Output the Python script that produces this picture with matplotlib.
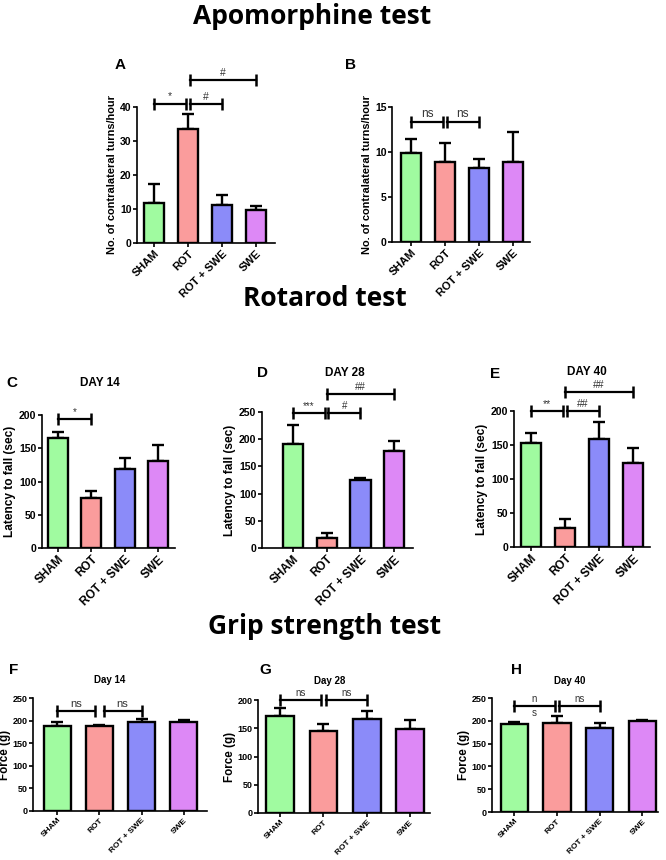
import matplotlib
matplotlib.use("Agg")
import matplotlib.pyplot as plt

plt.rcParams["font.family"] = ["Liberation Sans", "DejaVu Sans"]

W, H = 666, 860

grupos = ["SHAM", "ROT", "ROT + SWE", "SWE"]
colores = ["#a0fba0", "#fa9c9c", "#8b8bf9", "#dd88f6"]

# medias y SEM
a_media = [11.7, 33.5, 11.2, 9.8]
a_sem = [5.8, 4.3, 3.0, 1.2]
b_media = [9.9, 8.9, 8.2, 8.9]
b_sem = [1.6, 2.1, 1.0, 3.3]
c_media = [166, 75, 119, 131]
c_sem = [9, 10, 16, 24]
d_media = [192, 18, 125, 179]
d_sem = [35, 9, 4, 18]
e_media = [153, 28, 159, 123]
e_sem = [15, 13, 25, 23]
f_media = [188, 189, 197, 197]
f_sem = [10, 2, 7, 4]
g_media = [171, 146, 167, 149]
g_sem = [14, 12, 13, 15]
h_media = [193, 195, 184, 200]
h_sem = [5, 15, 12, 2]

# corchetes: (desde, hasta, altura, texto)
a_sig = [(0, 0.95, 41, "*"), (1.05, 2, 41, "#"), (1.05, 3, 48, "#")]
b_sig = [(0, 0.95, 13.3, "ns"), (1.05, 2, 13.3, "ns")]
c_sig = [(0, 1, 194, "*")]
d_sig = [(0, 0.95, 248, "***"), (1.05, 2, 248, "#"), (1.0, 3, 283, "##")]
e_sig = [(0, 0.95, 200, "**"), (1.05, 2, 200, "##"), (1.0, 3, 228, "##")]
f_sig = [(0, 0.9, 221, "ns"), (1.1, 2, 221, "ns")]
g_sig = [(0, 0.95, 200, "ns"), (1.05, 2, 200, "ns")]
h_sig = [(0, 0.95, 232, "n"), (1.05, 2, 232, "ns")]


def panel(fig, caja, xlim, media, sem, yticks, ylabel, sig, ylfs, xtfs, ytfs, sfs,
          ancho=0.6, lw=1.7, lpad=2):
    x0, x1, yb, yt = caja
    ax = fig.add_axes([x0 / W, 1 - yb / H, (x1 - x0) / W, (yb - yt) / H])
    x = list(range(len(grupos)))
    ax.bar(x, media, width=ancho, color=colores, edgecolor="black", linewidth=lw, zorder=3)
    ax.errorbar(x, media, yerr=[[0] * 4, sem], fmt="none", ecolor="black",
                elinewidth=lw, capsize=4, capthick=lw, zorder=2)
    ax.set_xlim(*xlim)
    ax.set_ylim(0, yticks[-1])
    ax.set_yticks(yticks)
    ax.set_xticks(x)
    ax.set_xticklabels(grupos, rotation=45, ha="right", rotation_mode="anchor",
                       fontsize=xtfs, fontweight="bold")
    for t in ax.get_yticklabels():
        t.set_fontsize(ytfs)
        t.set_fontweight("bold")
    ax.spines["top"].set_visible(False)
    ax.spines["right"].set_visible(False)
    ax.spines["left"].set_linewidth(1.2)
    ax.spines["bottom"].set_linewidth(1.2)
    ax.tick_params(width=1.2, length=3, pad=1)
    ax.set_ylabel(ylabel, fontsize=ylfs, fontweight="bold", labelpad=lpad)
    for i, j, y, txt in sig:
        ax.plot([i, j], [y, y], color="black", lw=1.6, marker="|", ms=8, mew=1.8,
                clip_on=False, zorder=4)
        ax.text((i + j) / 2, y + yticks[-1] * 0.015, txt, ha="center", va="bottom",
                fontsize=sfs, color="#333333")
    return ax


fig = plt.figure(figsize=(W / 100, H / 100), dpi=100)

tit = dict(ha="center", va="center", fontsize=19, fontweight="bold", family="Open Sans")
fig.text(312 / W, 1 - 16 / H, "Apomorphine test", **tit)
fig.text(325 / W, 1 - 298 / H, "Rotarod test", **tit)
fig.text(325 / W, 1 - 627 / H, "Grip strength test", **tit)

etq = dict(ha="center", va="center", fontsize=11, fontweight="bold")
sub = dict(ha="center", va="center", fontsize=8.5, fontweight="bold")
sub2 = dict(ha="center", va="center", fontsize=7, fontweight="bold")

ylab_a = "No. of contralateral turns/hour"
panel(fig, (137, 275, 243, 107), (-0.5, 3.55), a_media, a_sem, [0, 10, 20, 30, 40],
      ylab_a, a_sig, 7.9, 8, 7.5, 7.5)
panel(fig, (392, 530, 242, 107), (-0.56, 3.5), b_media, b_sem, [0, 5, 10, 15],
      ylab_a, b_sig, 7.9, 8, 7.5, 8.5)
fig.text(120 / W, 1 - 65 / H, "A", **etq)
fig.text(350 / W, 1 - 65 / H, "B", **etq)

ylab_r = "Latency to fall (sec)"
panel(fig, (42, 175, 548, 415), (-0.48, 3.51), c_media, c_sem, [0, 50, 100, 150, 200],
      ylab_r, c_sig, 8.6, 8.5, 7.6, 7)
panel(fig, (262, 413, 548, 412), (-0.92, 3.56), d_media, d_sem, [0, 50, 100, 150, 200, 250],
      ylab_r, d_sig, 8.6, 8.5, 7.6, 7)
panel(fig, (514, 650, 547, 411), (-0.5, 3.5), e_media, e_sem, [0, 50, 100, 150, 200],
      ylab_r, e_sig, 8.6, 8.5, 7.6, 7.5)
fig.text(12 / W, 1 - 383 / H, "C", **etq)
fig.text(100 / W, 1 - 383 / H, "DAY 14", **sub)
fig.text(262 / W, 1 - 373 / H, "D", **etq)
fig.text(345 / W, 1 - 373 / H, "DAY 28", **sub)
fig.text(495 / W, 1 - 374 / H, "E", **etq)
fig.text(587 / W, 1 - 372 / H, "DAY 40", **sub)

ylab_g = "Force (g)"
panel(fig, (33, 207, 811, 698), (-0.57, 3.55), f_media, f_sem, [0, 50, 100, 150, 200, 250],
      ylab_g, f_sig, 8.4, 6, 6.5, 8, ancho=0.64, lpad=1)
panel(fig, (258, 430, 813, 700), (-0.51, 3.46), g_media, g_sem, [0, 50, 100, 150, 200],
      ylab_g, g_sig, 8.4, 6, 6.5, 7, ancho=0.64, lpad=1)
ax_h = panel(fig, (492, 658, 812, 698), (-0.52, 3.37), h_media, h_sem, [0, 50, 100, 150, 200, 250],
             ylab_g, h_sig, 8.4, 6, 6.5, 7, ancho=0.64, lpad=1)
ax_h.text(0.475, 232 - 250 * 0.02, "s", ha="center", va="top", fontsize=7, color="#333333")
fig.text(14 / W, 1 - 670 / H, "F", **etq)
fig.text(110 / W, 1 - 680 / H, "Day 14", **sub2)
fig.text(265 / W, 1 - 670 / H, "G", **etq)
fig.text(330 / W, 1 - 681 / H, "Day 28", **sub2)
fig.text(517 / W, 1 - 670 / H, "H", **etq)
fig.text(570 / W, 1 - 681 / H, "Day 40", **sub2)

fig.savefig("out.png", dpi=100)
